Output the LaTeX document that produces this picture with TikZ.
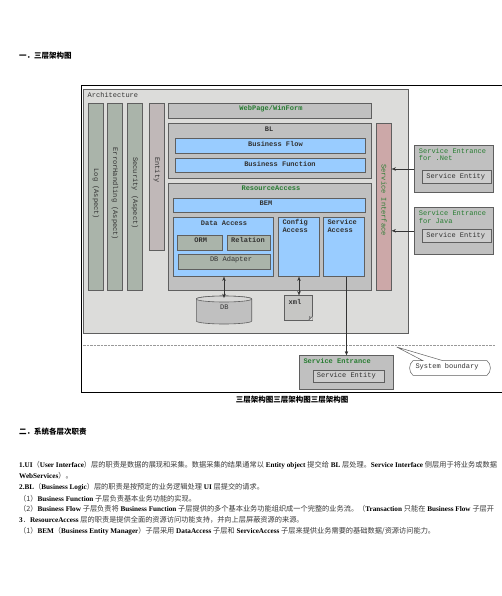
\documentclass[tikz,border=0pt]{standalone}
\usepackage{fontspec}
\setmainfont{Liberation Serif}
\setmonofont{Liberation Mono}
\newfontfamily\cjk{Noto Sans CJK SC}
\newcommand{\zh}[1]{{\cjk\mdseries\color{black!78} #1}}
\newcommand{\zhb}[1]{{\cjk\bfseries #1}}
\usetikzlibrary{arrows.meta,positioning,calc,shapes.geometric}
\definecolor{archbg}{RGB}{220,220,218}
\definecolor{laybg}{RGB}{192,192,192}
\definecolor{blubg}{RGB}{153,204,255}
\definecolor{aspbg}{RGB}{170,180,170}
\definecolor{entbg}{RGB}{192,184,184}
\definecolor{ifbg}{RGB}{204,168,168}
\definecolor{edge}{RGB}{95,95,95}
\definecolor{grn}{RGB}{40,125,50}
\definecolor{inktxt}{RGB}{50,50,50}
\tikzset{
  anybox/.style={draw=edge, line width=0.6pt, inner sep=0pt, outer sep=0pt},
  archbox/.style={anybox, fill=archbg},
  laybox/.style={anybox, fill=laybg},
  blubox/.style={anybox, fill=blubg},
  aspbox/.style={anybox, fill=aspbg, minimum width=15.4, minimum height=187.4},
  monotxt/.style={font=\ttfamily\bfseries\fontsize{7}{7.7}\selectfont, text=inktxt, inner sep=0pt, align=left},
  thintxt/.style={monotxt, font=\ttfamily\fontsize{7}{7.7}\selectfont},
  grntxt/.style={monotxt, text=grn},
  sidetxt/.style={thintxt, rotate=-90},
  link/.style={-{Stealth[length=1.5mm,width=1.2mm]}, black!80, line width=0.4pt},
  dlink/.style={{Stealth[length=1.5mm,width=1.2mm]}-{Stealth[length=1.5mm,width=1.2mm]}, black!80, line width=0.4pt},
  headtxt/.style={font=\bfseries\fontsize{7.5}{9}\selectfont, inner sep=0pt},
  bodytxt/.style={font=\bfseries\fontsize{7.2}{9}\selectfont, inner sep=0pt, anchor=west},
}
\begin{document}
\begin{tikzpicture}[x=1pt, y=-1pt]
 \path[use as bounding box, clip] (0,0) rectangle (502,596);
 \fill[white] (0,0) rectangle (502,596);
 % heading and frame
 \node[headtxt, anchor=west] (headone) at (19,56) {\zhb{一．三层架构图}};
 \draw[black, line width=0.9pt] (81.3,85.3) rectangle (512,392.3);
 \node[archbox, minimum width=325.4, minimum height=244] (arch) at (246,211) {};
 \node[thintxt, anchor=west] (archtxt) at (87.5,95) {Architecture};
 % aspects
 \foreach \nm/\xx/\yy/\ttl in {log/96/194/{Log (Aspect)}, errh/115/194/{ErrorHandling (Aspect)}, secu/135/193/{Security (Aspect)}}{
   \node[aspbox] (\nm) at (\xx,197) {};
   \node[sidetxt] (\nm txt) at (\xx,\yy) {\ttl};
 }
 \node[anybox, fill=entbg, minimum width=15.4, minimum height=147.4] (entity) at (157,177) {};
 \node[sidetxt] (entitytxt) at (157,170) {Entity};
 % top layers
 \node[laybox, minimum width=203.4, minimum height=15.4] (webpage) at (270,111) {};
 \node[grntxt] (webpagetxt) at (271,109) {WebPage/WinForm};
 \node[laybox, minimum width=203.4, minimum height=55] (bl) at (270,150.8) {};
 \node[monotxt] (bltxt) at (269,129) {BL};
 \node[blubox, minimum width=190.4, minimum height=15.4] (bizflow) at (270.5,146) {};
 \node[monotxt] (bizflowtxt) at (275.5,144) {Business Flow};
 \node[blubox, minimum width=190.4, minimum height=14.4] (bizfunc) at (270.5,165.5) {};
 \node[monotxt] (bizfunctxt) at (280,164) {Business Function};
 % resource access
 \node[laybox, minimum width=203.4, minimum height=107.4] (resaccess) at (270,237) {};
 \node[grntxt] (resaccesstxt) at (271,188.7) {ResourceAccess};
 \node[blubox, minimum width=192.4, minimum height=14.7] (bem) at (269.5,205.3) {};
 \node[monotxt] (bemtxt) at (266,203) {BEM};
 \node[blubox, minimum width=100.4, minimum height=59.4] (dataaccess) at (223.5,247) {};
 \node[monotxt] (dataaccesstxt) at (224,223) {Data Access};
 \node[anybox, fill=aspbg, minimum width=44.7, minimum height=15.7] (orm) at (199.7,242.8) {};
 \node[monotxt] (ormtxt) at (200.7,240) {ORM};
 \node[anybox, fill=aspbg, minimum width=42.7, minimum height=15.7] (relation) at (248.7,242.8) {};
 \node[monotxt] (relationtxt) at (248,240) {Relation};
 \node[anybox, fill=aspbg, minimum width=91.7, minimum height=15.4] (dbadapter) at (224.2,262) {};
 \node[thintxt] (dbadaptertxt) at (231,260) {DB Adapter};
 \node[blubox, minimum width=41.4, minimum height=59.4] (config) at (299,247) {};
 \node[monotxt, anchor=north west] (configtxt) at (282.3,219.5) {Config\\Access};
 \node[blubox, minimum width=41.4, minimum height=59.4] (svcaccess) at (344,247) {};
 \node[monotxt, anchor=north west] (svcaccesstxt) at (327.3,219.5) {Service\\Access};
 % service interface
 \node[anybox, fill=ifbg, minimum width=15.4, minimum height=167.4] (svcif) at (384,207) {};
 \node[sidetxt, text=grn] (svciftxt) at (384,200) {Service Interface};
 % service entrances
 \node[laybox, minimum width=79.4, minimum height=47.4] (netentr) at (454,169) {};
 \node[thintxt, text=grn, anchor=north west] (netentrtxt) at (418.7,147.8) {Service Entrance\\for .Net};
 \node[anybox, fill=laybg!80!white, minimum width=68.7, minimum height=13.7] (netent) at (456.7,176.9) {};
 \node[thintxt] (netenttxt) at (455.7,176.7) {Service Entity};
 \node[laybox, minimum width=79.4, minimum height=47] (javaentr) at (454,230.8) {};
 \node[thintxt, text=grn, anchor=north west] (javaentrtxt) at (418.7,210.2) {Service Entrance\\for Java};
 \node[anybox, fill=laybg!80!white, minimum width=68.7, minimum height=13] (javaent) at (456.7,236.2) {};
 \node[thintxt] (javaenttxt) at (455.7,236) {Service Entity};
 % stores
 \node[inner sep=0pt, outer sep=0pt, minimum width=55.4, minimum height=28] (db) at (224,310) {};
 \draw[edge, line width=0.6pt, fill=laybg] (db.north west) ++(0,3) -- ($(db.south west)+(0,-3)$)
   arc[start angle=180, end angle=360, x radius=27.7, y radius=-3]
   -- ($(db.north east)+(0,3)$) arc[start angle=0, end angle=180, x radius=27.7, y radius=-3] -- cycle;
 \draw[edge, line width=0.6pt, fill=archbg!80!laybg] ($(db.north west)+(0,3)$)
   arc[start angle=180, end angle=360, x radius=27.7, y radius=-3]
   arc[start angle=0, end angle=180, x radius=27.7, y radius=-3];
 \node[thintxt] (dbtxt) at (224.3,307.3) {DB};
 \node[anybox, fill=archbg!90!black, minimum width=28.4, minimum height=24.7] (xmldoc) at (298.5,307.7) {};
 \fill[archbg] (xmldoc.south east) -- ++(-4,0) -- ++(4,-4) -- cycle;
 \draw[edge, line width=0.6pt] ($(xmldoc.south east)+(-4,0)$) -- ++(4,-4) ++(-3,0) -- ++(0,3);
 \node[monotxt] (xmltxt) at (295,301.7) {xml};
 % boundary
 \coordinate (dashl) at (83,345);
 \coordinate (dashr) at (495,345);
 \draw[gray!80, line width=0.6pt, dash pattern=on 2.5pt off 1pt] (dashl) -- (dashr);
 \node[laybox, minimum width=94.4, minimum height=34] (svcentr) at (346.5,372.3) {};
 \node[grntxt, anchor=west] (svcentrtxt) at (303.3,361) {Service Entrance};
 \node[anybox, fill=laybg!80!white, minimum width=71.4, minimum height=12.4] (svcent) at (349,376.5) {};
 \node[thintxt] (svcenttxt) at (346.3,376) {Service Entity};
 \draw[edge, line width=0.5pt, fill=white] (396.7,347) -- (443,360.7) -- (487,360.7)
   .. controls (491.5,364) and (491.5,372) .. (487,375.3) -- (413,375.3)
   .. controls (408.5,372) and (408.5,364) .. (413,360.7) -- (423,360.7) -- cycle;
 \node[thintxt] (sysboundtxt) at (447,367) {System boundary};
 % connectors
 \draw[link] (netentr.west) -- (netentr.west -| svcif.east);
 \draw[link] (javaentr.west) -- (javaentr.west -| svcif.east);
 \draw[dlink] (db |- dataaccess.south) -- ([yshift=-2pt]db.north);
 \draw[dlink] (config.south) -- (config.south |- xmldoc.north);
 \draw[link] (svcentr |- svcaccess.south) -- (svcentr.north);
 % caption and text below
 \node[headtxt] (caption) at (292,399.3) {\zhb{三层架构图三层架构图三层架构图}};
 \node[headtxt, anchor=west] (headtwo) at (19,432) {\zhb{二．系统各层次职责}};
 \foreach \i/\yy/\txt in {
   1/465/{1.UI\zh{（}User Interface\zh{）层的职责是数据的展现和采集。数据采集的结果通常以} Entity object \zh{提交给} BL \zh{层处理。}Service Interface \zh{侧层用于将业务或数据}},
   2/476/{WebServices\zh{）。}},
   3/487.3/{2.BL\zh{（}Business Logic\zh{）层的职责是按预定的业务逻辑处理} UI \zh{层提交的请求。}},
   4/498.3/{\zh{（1）}Business Function \zh{子层负责基本业务功能的实现。}},
   5/509/{\zh{（2）}Business Flow \zh{子层负责将} Business Function \zh{子层提供的多个基本业务功能组织成一个完整的业务流。（}Transaction \zh{只能在} Business Flow \zh{子层开}},
   6/520/{3\zh{．}ResourceAccess \zh{层的职责是提供全面的资源访问功能支持，并向上层屏蔽资源的来源。}},
   7/531/{\zh{（1）}BEM\zh{（}Business Entity Manager\zh{）子层采用} DataAccess \zh{子层和} ServiceAccess \zh{子层来提供业务需要的基础数据/资源访问能力。}}}{
   \node[bodytxt] (line\i) at (19,\yy) {\txt};
 }
\end{tikzpicture}
\end{document}
